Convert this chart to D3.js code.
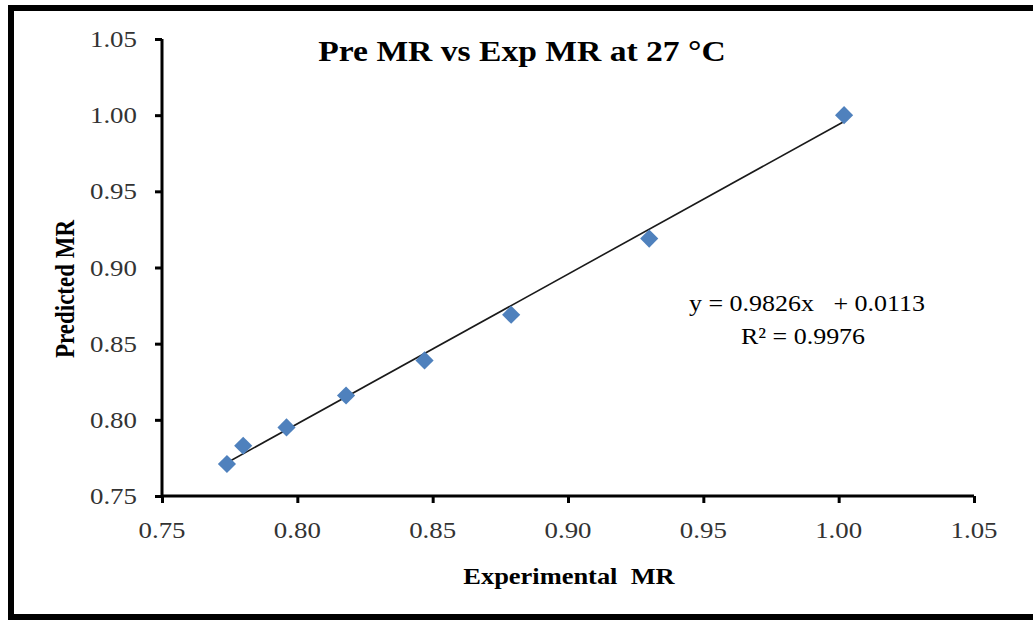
<!DOCTYPE html>
<html><head><meta charset="utf-8">
<script src="https://cdn.jsdelivr.net/npm/d3@7"></script>
<style>html,body{margin:0;padding:0;background:#fff;}svg{display:block;}</style>
</head><body>
<svg id="c" width="1033" height="621"></svg>
<script>
const expMR  = [0.774, 0.780, 0.796, 0.818, 0.847, 0.879, 0.930, 1.002];
const preMR  = [0.771, 0.783, 0.795, 0.816, 0.839, 0.869, 0.919, 1.000];
const xTicks = [0.75, 0.80, 0.85, 0.90, 0.95, 1.00, 1.05];
const yTicks = [0.75, 0.80, 0.85, 0.90, 0.95, 1.00, 1.05];
const slope = 0.9826, intercept = 0.0113;
const title = "Pre MR vs Exp MR at 27 \u00B0C";
const xLabel = "Experimental\u00A0\u00A0MR";
const yLabel = "Predicted MR";
const eqText = "y = 0.9826x \u00A0 + 0.0113";
const r2Text = "R\u00B2 = 0.9976";

const svg = d3.select("#c");
const SX = 1.15;
const font = "'Liberation Serif','Times New Roman',serif";

// frame
svg.append("rect").attr("x",0).attr("y",0).attr("width",1033).attr("height",621).attr("fill","#fff");
svg.append("rect").attr("x",11).attr("y",8).attr("width",1040).attr("height",609)
  .attr("fill","none").attr("stroke","#000").attr("stroke-width",6);

const x = d3.scaleLinear().domain([0.75,1.05]).range([162,974]);
const y = d3.scaleLinear().domain([0.75,1.05]).range([496,39]);

function stext(g, tx, ty, str, opts){
  return g.append("text")
    .attr("transform", `translate(${tx},${ty}) scale(${opts.sx||SX},1)`)
    .attr("text-anchor", opts.anchor||"middle")
    .attr("font-family", font)
    .attr("font-size", opts.size||22)
    .attr("font-weight", opts.weight||"normal")
    .attr("fill", opts.fill||"#000")
    .text(str);
}

// axes
const xa = svg.append("g").attr("transform","translate(0,496)")
  .call(d3.axisBottom(x).tickValues(xTicks).tickSize(7).tickFormat(""));
const ya = svg.append("g").attr("transform","translate(162,0)")
  .call(d3.axisLeft(y).tickValues(yTicks).tickSize(7).tickFormat(""));
[xa,ya].forEach(a=>{
  a.select(".domain").attr("stroke","#000").attr("stroke-width",3);
  a.selectAll(".tick line").attr("stroke","#000").attr("stroke-width",3);
});
xa.select(".domain").attr("d","M162,0H974");
ya.select(".domain").attr("d","M0,39V496");

const labels = svg.append("g");
xTicks.forEach(v=> stext(labels, x(v), 538, d3.format(".2f")(v), {size:24, sx:1.12, fill:"#333"}));
yTicks.forEach(v=> stext(labels, 137, y(v)+8, d3.format(".2f")(v), {size:24, sx:1.12, anchor:"end", fill:"#333"}));

// trend line
const x0 = d3.min(expMR), x1 = d3.max(expMR);
svg.append("line")
  .attr("x1", x(x0)).attr("y1", y(slope*x0+intercept))
  .attr("x2", x(x1)).attr("y2", y(slope*x1+intercept))
  .attr("stroke","#1a1a1a").attr("stroke-width",1.6);

// points
svg.append("g").selectAll("path").data(expMR.map((v,i)=>[v,preMR[i]])).join("path")
  .attr("d", d3.symbol().type(d3.symbolSquare).size(165))
  .attr("transform", d=>`translate(${x(d[0])},${y(d[1])}) rotate(45)`)
  .attr("fill","#4F81BD");

// title & labels
stext(svg, 522, 61, title, {size:30, weight:"bold", sx:1.12});
stext(svg, 569, 584, xLabel, {size:23, weight:"bold", sx:1.15});
svg.append("text")
  .attr("transform","translate(74,289) rotate(-90) scale(1,1.15)")
  .attr("text-anchor","middle").attr("font-family",font)
  .attr("font-size",23).attr("font-weight","bold").text(yLabel);

// equation
stext(svg, 807, 311, eqText, {size:23, sx:1.13});
stext(svg, 803, 344, r2Text, {size:23, sx:1.13});
</script>
</body></html>
